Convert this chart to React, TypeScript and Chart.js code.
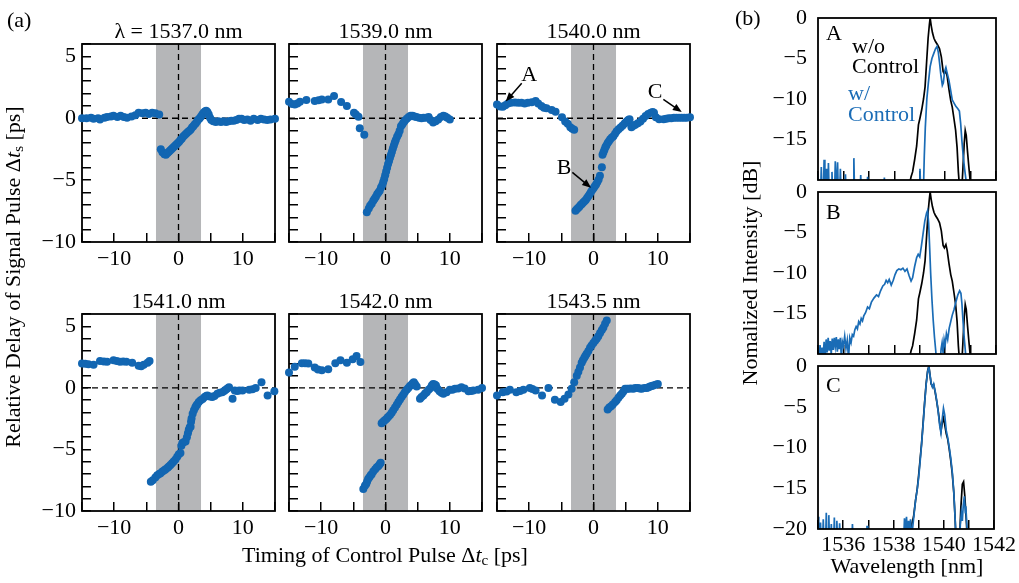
import React, { useEffect, useRef } from 'react';
import { Chart, registerables } from 'chart.js';

Chart.register(...registerables);

const SERIF = '"Liberation Serif", "Times New Roman", Times, serif';
Chart.defaults.font.family = SERIF;
Chart.defaults.font.size = 22;
Chart.defaults.color = '#000';

const DOT_BLUE = '#1266b2';
const LINE_BLUE = '#1a6cb6';
const BAND_GRAY = '#b5b6b8';

// ---------------- data: panel (a) ----------------
const delayTitles = ['λ = 1537.0 nm', '1539.0 nm', '1540.0 nm', '1541.0 nm', '1542.0 nm', '1543.5 nm'];
const controlWindow = [-3.5, 3.5];
const delayXTicks = [-10, 0, 10];
const delayYTicks = [-10, -5, 0, 5];

const delay1537 = [
  [-15, 0], [-14.3, 0], [-13.6, 0.05], [-13.2, -0.05], [-12.5, 0], [-12.2, -0.1], [-11.5, 0.05], [-11.1, 0.1], [-10.5, 0.15], [-10.1, 0.2],
  [-9.5, 0.1], [-9.0, 0.2], [-8.5, 0.1], [-8.0, 0.05], [-7.3, 0.15], [-6.7, 0.25], [-6.2, 0.45], [-5.6, 0.4], [-5.1, 0.45], [-4.6, 0.35],
  [-4.1, 0.45], [-3.6, 0.4], [-3.0, 0.3],
  [-2.75, -2.5], [-2.5, -2.75], [-2.2, -2.9], [-1.95, -2.95], [-1.7, -2.8], [-1.5, -2.7], [-1.3, -2.6], [-1.1, -2.5], [-0.9, -2.4], [-0.7, -2.3],
  [-0.5, -2.2], [-0.3, -2.1], [-0.1, -2.0], [0.1, -1.9], [0.3, -1.75], [0.5, -1.65], [0.7, -1.5], [0.9, -1.4], [1.1, -1.3], [1.3, -1.2],
  [1.5, -1.1], [1.7, -1.0], [1.9, -0.9], [2.1, -0.75], [2.3, -0.65], [2.5, -0.5], [2.7, -0.4], [2.9, -0.25], [3.1, -0.1], [3.3, 0.0],
  [3.5, 0.15], [3.7, 0.3], [3.9, 0.45], [4.1, 0.55], [4.3, 0.6], [4.5, 0.5], [4.7, 0.3], [4.9, 0.05], [5.1, -0.15],
  [5.4, -0.25], [5.8, -0.3], [6.2, -0.25], [6.6, -0.3], [7.0, -0.25], [7.4, -0.3], [7.8, -0.25], [8.2, -0.2], [8.6, -0.2], [9.0, -0.15],
  [9.4, -0.05], [9.8, -0.05], [10.2, -0.15], [10.7, -0.1], [11.2, -0.2], [11.7, -0.05], [12.3, -0.15], [12.8, -0.05], [13.3, -0.1], [13.8, -0.15],
  [14.3, -0.1], [15.0, -0.05],
];

const delay1539 = [
  [-15, 1.33], [-14.5, 1.15], [-14.1, 1.12], [-13.7, 1.2], [-13.3, 1.33], [-12.3, 1.47], [-11, 1.39], [-10.4, 1.45], [-9.9, 1.52], [-8.9, 1.52],
  [-8, 1.79], [-6.9, 1.31], [-6, 0.99], [-4.9, 0.45], [-4.6, 0.3], [-4.2, 0.13], [-4, -0.8], [-3.3, -1.33],
  [-2.9, -7.6], [-2.6, -7.3], [-2.4, -7.07], [-2.15, -6.9], [-1.9, -6.67], [-1.7, -6.5], [-1.5, -6.35], [-1.3, -6.15], [-1.1, -6], [-0.9, -5.85],
  [-0.7, -5.6], [-0.5, -5.4], [-0.35, -5.15], [-0.2, -4.9], [-0.05, -4.6], [0.1, -4.3], [0.25, -4], [0.4, -3.7], [0.55, -3.45], [0.7, -3.2],
  [0.85, -2.95], [1, -2.7], [1.15, -2.45], [1.3, -2.2], [1.45, -1.95], [1.6, -1.75], [1.8, -1.5], [2, -1.3], [2.2, -1], [2.4, -0.65],
  [2.6, -0.5], [2.8, -0.35], [3, -0.2], [3.3, -0.05], [3.6, 0.1], [3.9, 0.2], [4.2, 0.2], [4.5, 0.15], [4.8, 0.1], [5.2, 0.05],
  [5.6, 0], [5.9, 0.05], [6.3, 0.05], [6.7, 0.1], [7, -0.15], [7.4, -0.35], [7.8, -0.25], [8.2, -0.1], [8.6, 0.1], [9, 0.2],
  [9.3, 0.15], [9.6, 0.05], [10, -0.1],
];

const delay1540 = [
  [-15, 1.12], [-14.5, 0.95], [-14.1, 0.93], [-13.7, 1.05], [-13.3, 1.2], [-12.8, 1.25], [-12.2, 1.28], [-11.7, 1.25], [-11.2, 1.25], [-10.7, 1.2],
  [-10.2, 1.25], [-9.6, 1.3], [-9.0, 1.39], [-8.6, 1.2], [-8.1, 0.99], [-7.7, 0.85], [-7.3, 0.8], [-6.5, 0.67], [-5.9, 0.53], [-4.9, 0.08],
  [-4.4, -0.27], [-4.0, -0.45], [-3.6, -0.72], [-3.3, -0.85], [-3.0, -0.93],
  [-2.8, -7.47], [-2.6, -7.35], [-2.4, -7.25], [-2.2, -7.15], [-2.0, -7.0], [-1.8, -6.93], [-1.6, -6.8], [-1.4, -6.7], [-1.2, -6.6], [-1.0, -6.45],
  [-0.8, -6.3], [-0.6, -6.15], [-0.4, -5.95], [-0.2, -5.8], [0.0, -5.65], [0.2, -5.5], [0.4, -5.35], [0.6, -5.15], [0.8, -4.95], [1.0, -4.65],
  [1.3, -3.95],
  [1.4, -2.95], [1.55, -2.75], [1.7, -2.55], [1.85, -2.35], [2.0, -2.2], [2.2, -2.0], [2.4, -1.85], [2.6, -1.7], [2.85, -1.55], [3.1, -1.45],
  [3.35, -1.25], [3.6, -1.05], [3.9, -0.88], [4.2, -0.75], [4.5, -0.61], [4.8, -0.45], [5.0, -0.35], [5.2, -0.25], [5.4, -0.15], [5.6, -0.08],
  [5.9, -0.72], [6.2, -0.6], [6.5, -0.53], [6.9, -0.4], [7.3, -0.27], [7.7, -0.05], [8.1, 0.19], [8.5, 0.35], [8.9, 0.45], [9.2, 0.5],
  [9.4, 0.45], [9.7, 0.08], [10.2, -0.08], [10.9, -0.08], [11.3, -0.05], [11.7, 0.0], [12.1, 0.0], [12.5, 0.05], [12.9, 0.05], [13.3, 0.05],
  [13.7, 0.05], [14.1, 0.05], [14.5, 0.05], [15, 0.08],
];

const delay1541 = [
  [-15, 1.97], [-14.5, 1.95], [-14, 1.92], [-13.2, 1.87], [-12.2, 2.19], [-11.6, 2.15], [-11.1, 2.13], [-10.1, 2.24], [-9.6, 2.18], [-9.1, 2.13],
  [-8.6, 2.15], [-8.1, 2.13], [-7.2, 2.05], [-6.2, 1.79], [-5.8, 1.75], [-5.4, 1.87], [-4.8, 2.05], [-4.5, 2.19],
  [-4.3, -7.63], [-4.0, -7.5], [-3.6, -7.28], [-3.3, -7.1], [-3.0, -7.0], [-2.8, -6.93], [-2.5, -6.8], [-2.2, -6.7], [-2.0, -6.61], [-1.7, -6.48],
  [-1.5, -6.38], [-1.25, -6.27], [-1.0, -6.12], [-0.75, -5.97], [-0.47, -5.81], [-0.2, -5.6], [0.05, -5.4], [0.3, -5.28], [0.45, -4.7], [0.6, -4.48],
  [0.85, -4.4], [1.1, -4.35], [1.3, -4.0], [1.46, -3.68], [1.6, -3.4], [1.75, -3.2], [1.88, -3.15], [1.95, -2.75], [2.03, -2.48], [2.2, -2.1],
  [2.4, -1.81], [2.6, -1.6], [2.75, -1.45], [2.92, -1.33], [3.15, -1.15], [3.44, -1.01], [3.75, -0.9], [4.06, -0.75], [4.3, -0.65], [4.48, -0.61],
  [4.9, -0.7], [5.26, -0.75], [5.6, -0.65], [6.04, -0.48], [6.4, -0.4], [6.8, -0.35], [7.1, -0.25], [7.34, -0.16], [7.6, -0.05], [7.86, 0.05],
  [8.4, -0.88], [8.75, -0.21], [9.1, -0.25], [9.43, -0.21], [9.95, -0.21], [11.0, -0.16], [11.5, -0.12], [12.0, 0.0], [12.9, 0.45], [13.85, -0.61],
  [14.9, -0.27],
];

const delay1542 = [
  [-15, 1.25], [-14.1, 1.71], [-13, 2.0], [-12.5, 2.0], [-12, 1.97], [-11, 1.65], [-10.5, 1.5], [-9.9, 1.44], [-8.9, 1.52], [-7.8, 2.0],
  [-7.0, 2.24], [-6.0, 2.05], [-5.1, 2.32], [-4.5, 2.59], [-3.9, 2.11],
  [-3.45, -8.21], [-3.2, -7.95], [-3.0, -7.81], [-2.85, -7.6], [-2.7, -7.41], [-2.5, -7.25], [-2.3, -7.1], [-2.15, -7.01], [-1.9, -6.8], [-1.6, -6.61],
  [-1.35, -6.45], [-1.1, -6.35], [-0.9, -6.2], [-0.75, -6.08],
  [-0.6, -2.88], [-0.4, -2.78], [-0.2, -2.68], [0.0, -2.58], [0.2, -2.48], [0.44, -2.35], [0.7, -2.2], [0.96, -2.03], [1.2, -1.82], [1.48, -1.6],
  [1.75, -1.38], [2.0, -1.15], [2.25, -0.95], [2.5, -0.75], [2.75, -0.55], [3.0, -0.35], [3.3, -0.15], [3.55, 0.0], [3.8, 0.15], [4.07, 0.27],
  [4.25, 0.38], [4.4, 0.45], [4.6, 0.3], [4.85, 0.11],
  [5.36, -0.88], [5.6, -0.75], [5.9, -0.61], [6.15, -0.45], [6.4, -0.35], [6.7, -0.15], [7.0, 0.0], [7.2, 0.2], [7.4, 0.32], [7.65, 0.28],
  [7.85, 0.19], [8.1, -0.1], [8.4, -0.27], [8.7, -0.4], [9.0, -0.48], [9.5, -0.35], [10.0, -0.16], [10.4, -0.15], [10.8, -0.08], [11.3, -0.05],
  [11.8, 0.05], [12.3, -0.05], [12.9, -0.27], [13.3, -0.25], [13.65, -0.21], [14.4, -0.16], [15, 0.0],
];

const delay1543_5 = [
  [-15, -0.61], [-14.1, -0.35], [-13.5, -0.3], [-13.0, -0.16], [-12.0, -0.35], [-11.4, -0.25], [-10.9, -0.16], [-9.9, 0.0], [-9.5, -0.1], [-9.0, -0.21],
  [-8.0, -0.61], [-7.0, 0.0], [-6.0, -0.96], [-5.1, -1.15], [-4.5, -0.88], [-3.9, -0.53], [-3.4, -0.08], [-3.0, 0.45], [-2.6, 0.99], [-2.35, 1.3],
  [-2.1, 1.65], [-1.84, 2.05], [-1.65, 2.25], [-1.43, 2.45], [-1.25, 2.6], [-1.06, 2.77], [-0.8, 3.0], [-0.54, 3.25], [-0.3, 3.45], [-0.02, 3.65],
  [0.25, 3.82], [0.5, 4.0], [0.75, 4.2], [1.02, 4.45], [1.3, 4.7], [1.54, 4.91], [1.8, 5.2], [2.06, 5.47],
  [2.2, -1.76], [2.45, -1.6], [2.73, -1.49], [3.0, -1.35], [3.36, -1.15], [3.6, -1.0], [3.88, -0.8], [4.15, -0.62], [4.4, -0.48], [4.65, -0.3],
  [4.92, -0.08], [5.2, -0.08], [5.44, -0.08], [5.8, -0.05], [6.2, -0.08], [6.5, -0.02], [6.9, 0.0], [7.2, -0.05], [7.5, -0.08], [7.9, 0.0],
  [8.3, 0.0], [8.55, 0.05], [8.8, 0.11], [9.05, 0.15], [9.3, 0.19], [9.65, 0.25], [10.0, 0.32],
];

// annotations on the 1540.0 nm panel: [label, textX, textY, tailX, tailY, tipX, tipY]
const delayNotes = [
  ['A', -10.0, 3.44, -11.16, 2.82, -13.65, 1.36],
  ['B', -4.58, -4.03, -3.29, -4.38, -0.38, -5.62],
  ['C', 9.57, 2.1, 10.86, 1.52, 13.72, 0.5],
];

// ---------------- data: panel (b) ----------------
const wavelengthTicks = [1536, 1538, 1540, 1542];
const intensityTicks = [0, -5, -10, -15, -20];

// spectrum without control pulse (A, B)
const specWithout = [
  [1538.5, -22], [1538.6, -20.5], [1538.66, -19.6], [1538.72, -19.0], [1538.8, -17.5], [1538.88, -15.8], [1538.95, -13.2], [1539.0, -12.5],
  [1539.08, -11.3], [1539.15, -10.0], [1539.21, -8.5], [1539.27, -5.5], [1539.33, -2.5], [1539.38, -0.8], [1539.41, 0], [1539.45, -0.9],
  [1539.5, -1.8], [1539.56, -2.5], [1539.62, -2.9], [1539.7, -3.3], [1539.78, -3.8], [1539.85, -4.8], [1539.92, -6.6], [1539.97, -6.9],
  [1540.03, -6.5], [1540.08, -7.2], [1540.15, -8.8], [1540.22, -10.2], [1540.28, -11.0], [1540.35, -12.5], [1540.41, -13.8], [1540.47, -16.0],
  [1540.52, -19.0], [1540.58, -21.5], [1540.64, -22], [1540.7, -18.5], [1540.75, -15.5], [1540.79, -13.9], [1540.83, -14.5], [1540.88, -16.5],
  [1540.93, -18.3], [1540.98, -20.0], [1541.05, -22],
];

// spectrum with control pulse at point A
const specWithA = [
  [1535.0, -19.2], [1535.04, -22], [1535.1, -22], [1535.13, -18.4], [1535.16, -22], [1535.21, -22], [1535.24, -17.5], [1535.27, -22],
  [1535.3, -22], [1535.32, -18.6], [1535.35, -22], [1535.39, -22], [1535.41, -17.9], [1535.44, -22], [1535.52, -22], [1535.55, -19.0],
  [1535.58, -22], [1535.65, -22], [1535.68, -17.7], [1535.71, -22], [1535.74, -22], [1535.77, -17.8], [1535.8, -22], [1535.85, -22],
  [1535.88, -18.6], [1535.91, -22], [1536.05, -22], [1536.08, -19.3], [1536.11, -22], [1536.38, -22], [1536.41, -17.3], [1536.44, -22],
  [1536.65, -22], [1536.68, -19.4], [1536.71, -22], [1536.92, -22], [1536.95, -19.6], [1536.98, -22], [1537.58, -22], [1537.61, -19.7],
  [1537.64, -22], [1538.98, -22], [1539.01, -18.6], [1539.05, -22],
  [1539.14, -22], [1539.18, -17.0], [1539.22, -13.5], [1539.28, -10.0], [1539.34, -8.0], [1539.41, -6.0], [1539.48, -5.0], [1539.55, -4.4],
  [1539.62, -3.8], [1539.68, -3.5], [1539.73, -4.2], [1539.78, -5.5], [1539.83, -7.0], [1539.89, -8.3], [1539.93, -8.0], [1539.98, -6.6],
  [1540.03, -6.1], [1540.08, -6.8], [1540.15, -7.7], [1540.22, -9.0], [1540.28, -10.1], [1540.35, -10.5], [1540.42, -10.9], [1540.5, -11.2],
  [1540.56, -11.5], [1540.61, -13.0], [1540.66, -15.2], [1540.71, -17.0], [1540.76, -18.5], [1540.82, -20.0], [1540.88, -22],
];

// spectrum with control pulse at point B
const specWithB = [
  [1535.0, -19.5], [1535.04, -21], [1535.08, -18.9], [1535.12, -20.6], [1535.16, -19.2], [1535.2, -20.4], [1535.24, -18.5], [1535.28, -20.8],
  [1535.32, -18.2], [1535.36, -19.8], [1535.4, -18.0], [1535.44, -19.6], [1535.48, -18.4], [1535.52, -20.0], [1535.56, -18.1], [1535.6, -19.5],
  [1535.64, -18.0], [1535.68, -19.1], [1535.72, -17.9], [1535.76, -19.7], [1535.8, -18.2], [1535.84, -19.4], [1535.88, -18.0], [1535.92, -20.6],
  [1535.96, -18.5], [1536.0, -19.0], [1536.05, -17.8], [1536.1, -19.3], [1536.15, -18.3], [1536.2, -20.5], [1536.25, -18.0], [1536.3, -18.6],
  [1536.35, -17.6], [1536.4, -17.8], [1536.45, -17.0], [1536.5, -16.6], [1536.55, -16.9], [1536.6, -16.0], [1536.65, -16.3], [1536.7, -15.6],
  [1536.75, -15.9], [1536.8, -15.3], [1536.87, -14.9], [1536.95, -14.2], [1537.02, -14.4], [1537.1, -13.6], [1537.2, -13.1], [1537.3, -12.7],
  [1537.38, -12.9], [1537.46, -12.2], [1537.55, -11.6], [1537.62, -11.4], [1537.68, -10.9], [1537.74, -11.2], [1537.8, -10.8], [1537.88, -11.5],
  [1537.96, -10.9], [1538.03, -10.2], [1538.1, -9.7], [1538.18, -9.5], [1538.26, -9.6], [1538.34, -9.4], [1538.42, -9.8], [1538.5, -9.5],
  [1538.58, -10.3], [1538.66, -11.0], [1538.72, -10.6], [1538.8, -9.2], [1538.88, -8.1], [1538.94, -7.7], [1539.0, -8.0], [1539.06, -6.8],
  [1539.13, -5.2], [1539.2, -3.6], [1539.27, -2.6], [1539.31, -2.3], [1539.35, -3.8], [1539.39, -6.8], [1539.43, -10.0], [1539.48, -13.2],
  [1539.53, -15.8], [1539.58, -17.9], [1539.63, -19.6], [1539.68, -21.5], [1539.8, -21.5], [1539.84, -19.4], [1539.88, -18.6], [1539.92, -19.9],
  [1539.96, -18.2], [1540.0, -18.9], [1540.05, -17.5], [1540.1, -18.2], [1540.16, -16.8], [1540.22, -16.0], [1540.28, -15.2], [1540.35, -14.5],
  [1540.42, -13.6], [1540.5, -12.7], [1540.57, -12.2], [1540.62, -12.5], [1540.66, -13.8], [1540.7, -15.8], [1540.75, -18.0], [1540.8, -19.8],
  [1540.85, -21.5],
];

// spectra at point C
const specWithoutC = [
  [1538.55, -22], [1538.65, -20.5], [1538.72, -19.5], [1538.8, -18.5], [1538.88, -16.5], [1538.95, -15.0], [1539.0, -13.5], [1539.06, -11.5],
  [1539.12, -9.5], [1539.18, -7.0], [1539.24, -4.5], [1539.3, -2.2], [1539.36, -0.6], [1539.41, 0], [1539.45, -1.0], [1539.5, -2.2],
  [1539.55, -2.5], [1539.6, -2.3], [1539.66, -3.2], [1539.72, -4.3], [1539.78, -5.5], [1539.84, -7.0], [1539.89, -8.0], [1539.94, -7.0],
  [1539.99, -6.4], [1540.04, -7.2], [1540.1, -8.3], [1540.16, -9.0], [1540.22, -10.2], [1540.28, -11.6], [1540.34, -13.2], [1540.4, -15.5],
  [1540.45, -18.5], [1540.5, -22], [1540.62, -22], [1540.68, -17.5], [1540.74, -14.5], [1540.79, -14.2], [1540.84, -16.0], [1540.9, -19.0],
  [1540.95, -22],
];

const specWithC = [
  [1535.0, -18.5], [1535.03, -22], [1535.07, -22], [1535.1, -19.2], [1535.13, -22], [1535.18, -22], [1535.21, -18.8], [1535.24, -22],
  [1535.3, -22], [1535.33, -18.0], [1535.36, -22], [1535.4, -22], [1535.43, -18.3], [1535.46, -22], [1535.5, -22], [1535.53, -19.4],
  [1535.56, -22], [1535.62, -22], [1535.65, -18.6], [1535.68, -22], [1535.72, -22], [1535.75, -19.0], [1535.78, -22], [1535.83, -22],
  [1535.86, -19.3], [1535.89, -22], [1536.34, -22], [1536.37, -19.4], [1536.4, -22], [1536.92, -22], [1536.95, -19.6], [1536.98, -22],
  [1538.4, -22], [1538.44, -18.7], [1538.48, -20.5], [1538.52, -18.5], [1538.56, -21], [1538.6, -19.0], [1538.64, -20.2], [1538.68, -18.8],
  [1538.72, -21], [1538.76, -20.0], [1538.82, -18.2], [1538.88, -16.5], [1538.94, -15.3], [1539.0, -13.8], [1539.06, -11.8], [1539.12, -9.6],
  [1539.18, -7.2], [1539.24, -4.6], [1539.3, -2.3], [1539.36, -0.7], [1539.41, -0.1], [1539.45, -1.0], [1539.5, -2.1], [1539.55, -2.6],
  [1539.6, -2.2], [1539.66, -3.1], [1539.72, -4.2], [1539.78, -5.6], [1539.84, -7.3], [1539.89, -8.2], [1539.94, -6.5], [1539.99, -5.2],
  [1540.04, -6.0], [1540.1, -7.9], [1540.16, -8.8], [1540.22, -10.0], [1540.28, -11.3], [1540.34, -13.0], [1540.4, -15.4], [1540.45, -18.5],
  [1540.5, -22], [1540.62, -22], [1540.66, -19.5], [1540.7, -18.0], [1540.74, -19.0], [1540.78, -17.0], [1540.82, -16.0], [1540.86, -18.0],
  [1540.88, -17.2], [1540.92, -19.5], [1540.96, -22],
];

// ---------------- layout ----------------
const ML = 70, MR = 32, MT = 34, MB = 42;

const fmt = (v: number) => (v < 0 ? '\u2212' + Math.abs(v) : String(v));
const near = (v: number, list: number[]) => list.some((t) => Math.abs(v - t) < 1e-6);

function drawArrow(ctx: CanvasRenderingContext2D, x1: number, y1: number, x2: number, y2: number) {
  const ang = Math.atan2(y2 - y1, x2 - x1);
  const L = 9, W = 3.6;
  ctx.beginPath();
  ctx.moveTo(x1, y1);
  ctx.lineTo(x2 - (L - 2) * Math.cos(ang), y2 - (L - 2) * Math.sin(ang));
  ctx.stroke();
  ctx.beginPath();
  ctx.moveTo(x2, y2);
  ctx.lineTo(x2 - L * Math.cos(ang) + W * Math.sin(ang), y2 - L * Math.sin(ang) - W * Math.cos(ang));
  ctx.lineTo(x2 - L * Math.cos(ang) - W * Math.sin(ang), y2 - L * Math.sin(ang) + W * Math.cos(ang));
  ctx.closePath();
  ctx.fill();
}

function makeDecor(opts: any) {
  const frame = (chart: any) => {
    const { ctx, chartArea: a } = chart;
    ctx.save();
    ctx.strokeStyle = '#000';
    ctx.lineWidth = 1.8;
    ctx.setLineDash([]);
    ctx.strokeRect(a.left, a.top, a.right - a.left, a.bottom - a.top);
    ctx.restore();
  };
  return {
    id: 'decor',
    beforeDraw(chart: any) {
      if (!opts.band) return;
      const { ctx, chartArea: a, scales } = chart;
      const x = scales.x, y = scales.y;
      ctx.save();
      const x1 = x.getPixelForValue(controlWindow[0]);
      const x2 = x.getPixelForValue(controlWindow[1]);
      ctx.fillStyle = BAND_GRAY;
      ctx.fillRect(x1, a.top, x2 - x1, a.bottom - a.top);
      ctx.strokeStyle = '#000';
      ctx.lineWidth = 1.3;
      ctx.setLineDash([6, 4]);
      const x0 = x.getPixelForValue(0), y0 = y.getPixelForValue(0);
      ctx.beginPath();
      ctx.moveTo(x0, a.top);
      ctx.lineTo(x0, a.bottom);
      ctx.moveTo(a.left, y0);
      ctx.lineTo(a.right, y0);
      ctx.stroke();
      ctx.restore();
    },
    beforeDatasetsDraw(chart: any) {
      if (!opts.frameAfter) frame(chart);
    },
    afterDatasetsDraw(chart: any) {
      if (opts.frameAfter) frame(chart);
      const { ctx, chartArea: a, scales } = chart;
      ctx.save();
      ctx.font = '22px ' + SERIF;
      if (opts.title) {
        ctx.fillStyle = '#000';
        ctx.textAlign = 'center';
        ctx.textBaseline = 'alphabetic';
        ctx.fillText(opts.title, (a.left + a.right) / 2, a.top - 6);
      }
      if (opts.notes) {
        ctx.fillStyle = '#000';
        ctx.strokeStyle = '#000';
        ctx.lineWidth = 1.5;
        ctx.textAlign = 'center';
        ctx.textBaseline = 'middle';
        for (const n of opts.notes) {
          const [lab, tx, ty, ax, ay, bx, by] = n;
          ctx.fillText(lab, scales.x.getPixelForValue(tx), scales.y.getPixelForValue(ty));
          drawArrow(ctx, scales.x.getPixelForValue(ax), scales.y.getPixelForValue(ay), scales.x.getPixelForValue(bx), scales.y.getPixelForValue(by));
        }
      }
      if (opts.texts) {
        ctx.textAlign = 'left';
        ctx.textBaseline = 'alphabetic';
        for (const t of opts.texts) {
          ctx.fillStyle = t.color;
          ctx.fillText(t.text, a.left + t.dx, a.top + t.dy);
        }
      }
      ctx.restore();
    },
  };
}

function delayConfig(points: number[][], title: string, showY: boolean, notes?: any[]) {
  return {
    type: 'scatter',
    data: {
      datasets: [{
        data: points.map(([x, y]) => ({ x, y })),
        backgroundColor: DOT_BLUE,
        borderColor: DOT_BLUE,
        pointRadius: 4,
        pointBorderWidth: 0,
        clip: false,
      }],
    },
    options: {
      animation: false,
      responsive: false,
      events: [],
      layout: { padding: { left: 0, top: MT, right: MR, bottom: 0 } },
      plugins: { legend: { display: false }, tooltip: { enabled: false }, title: { display: false } },
      scales: {
        x: {
          type: 'linear', position: 'bottom', min: -15, max: 15,
          border: { display: false },
          grid: { drawOnChartArea: false, drawTicks: true, tickLength: -9, color: '#000', lineWidth: 1.5 },
          ticks: {
            stepSize: 5, autoSkip: false, maxRotation: 0, padding: 13, color: '#000',
            font: { family: SERIF, size: 22 },
            callback: (v: number) => (near(v, delayXTicks) ? fmt(v) : ''),
          },
          afterFit: (s: any) => { s.height = MB; },
        },
        y: {
          type: 'linear', position: 'left', min: -10, max: 6,
          border: { display: false },
          grid: { drawOnChartArea: false, drawTicks: true, tickLength: -9, color: '#000', lineWidth: 1.5 },
          ticks: {
            stepSize: 1, autoSkip: false, padding: 15, color: '#000',
            font: { family: SERIF, size: 22 },
            callback: (v: number) => (showY && near(v, delayYTicks) ? fmt(v) : ''),
          },
          afterFit: (s: any) => { s.width = ML; },
        },
      },
    },
    plugins: [makeDecor({ band: true, title, notes })],
  };
}

function spectrumConfig(without: number[][], withC: number[][], letter: string, letterDy: number, showX: boolean, showBottom: boolean, legend: boolean) {
  const texts: any[] = [{ text: letter, dx: 8, dy: letterDy, color: '#000' }];
  if (legend) {
    texts.push({ text: 'w/o', dx: 34, dy: 35, color: '#000' });
    texts.push({ text: 'Control', dx: 34, dy: 55, color: '#000' });
    texts.push({ text: 'w/', dx: 30, dy: 82, color: LINE_BLUE });
    texts.push({ text: 'Control', dx: 30, dy: 103, color: LINE_BLUE });
  }
  const ds = (pts: number[][], color: string, order: number) => ({
    data: pts.map(([x, y]) => ({ x, y })),
    borderColor: color,
    backgroundColor: color,
    borderWidth: 1.7,
    pointRadius: 0,
    tension: 0,
    fill: false,
    clip: 0,
    order,
  });
  return {
    type: 'line',
    // lower "order" is drawn on top: the blue (with control) trace lies over the black one
    data: { datasets: [ds(without, '#000', 2), ds(withC, LINE_BLUE, 1)] },
    options: {
      animation: false,
      responsive: false,
      events: [],
      layout: { padding: { left: 0, top: MT, right: MR, bottom: 0 } },
      plugins: { legend: { display: false }, tooltip: { enabled: false }, title: { display: false } },
      scales: {
        x: {
          type: 'linear', position: 'bottom', min: 1535, max: 1542,
          border: { display: false },
          grid: { drawOnChartArea: false, drawTicks: true, tickLength: -9, color: '#000', lineWidth: 1.5 },
          ticks: {
            stepSize: 1, autoSkip: false, maxRotation: 0, padding: 12, color: '#000',
            font: { family: SERIF, size: 22 },
            callback: (v: number) => (showX && near(v, wavelengthTicks) ? String(Math.round(v)) : ''),
          },
          afterFit: (s: any) => { s.height = MB; },
        },
        y: {
          type: 'linear', position: 'left', min: -20, max: 0,
          border: { display: false },
          grid: { drawOnChartArea: false, drawTicks: false, color: '#000', lineWidth: 1.5 },
          ticks: {
            stepSize: 5, autoSkip: false, padding: 11, color: '#000',
            font: { family: SERIF, size: 22 },
            callback: (v: number) => (near(v, intensityTicks) && (showBottom || v > -20) ? fmt(v) : ''),
          },
          afterFit: (s: any) => { s.width = ML; },
        },
      },
    },
    plugins: [makeDecor({ frameAfter: true, texts })],
  };
}

function ChartPanel({ left, top, w, h, config }: any) {
  const ref = useRef<HTMLCanvasElement>(null);
  useEffect(() => {
    const chart = new Chart(ref.current as HTMLCanvasElement, config);
    return () => chart.destroy();
  }, []);
  const cw = w + ML + MR, ch = h + MT + MB;
  return (
    <canvas
      ref={ref}
      width={cw}
      height={ch}
      style={{ position: 'absolute', left: left - ML, top: top - MT, width: cw, height: ch }}
    />
  );
}

const textStyle: any = { position: 'absolute', fontFamily: SERIF, fontSize: 22, lineHeight: '26px', whiteSpace: 'nowrap', color: '#000' };

export default function App() {
  const colLeft = [82, 289, 497];
  const rowTop = [44, 314];
  const aW = 193, aH = 198;
  const delaySets = [delay1537, delay1539, delay1540, delay1541, delay1542, delay1543_5];

  const bLeft = 818, bW = 178;
  const bTop = [18, 192, 366];
  const bH = [162, 162, 163];

  return (
    <div style={{ position: 'fixed', left: 0, top: 0, width: 1019, height: 583, overflow: 'hidden', background: '#fff' }}>
      {delaySets.map((pts, i) => {
        const r = Math.floor(i / 3), c = i % 3;
        return (
          <ChartPanel
            key={'d' + i}
            left={colLeft[c]}
            top={rowTop[r]}
            w={aW}
            h={r === 0 ? aH : aH - 1}
            config={delayConfig(pts, delayTitles[i], c === 0, i === 2 ? delayNotes : undefined)}
          />
        );
      })}
      <ChartPanel left={bLeft} top={bTop[0]} w={bW} h={bH[0]} config={spectrumConfig(specWithout, specWithA, 'A', 22, false, false, true)} />
      <ChartPanel left={bLeft} top={bTop[1]} w={bW} h={bH[1]} config={spectrumConfig(specWithout, specWithB, 'B', 27, false, false, false)} />
      <ChartPanel left={bLeft} top={bTop[2]} w={bW} h={bH[2]} config={spectrumConfig(specWithoutC, specWithC, 'C', 26, true, true, false)} />

      <div style={{ ...textStyle, left: 7, top: 7 }}>(a)</div>
      <div style={{ ...textStyle, left: 735, top: 5 }}>(b)</div>
      <div style={{ ...textStyle, left: 15, top: 277, transform: 'translate(-50%, -50%) rotate(-90deg)' }}>
        Relative Delay of Signal Pulse Δ<i>t</i><span style={{ fontSize: 15, verticalAlign: '-3px' }}>s</span> [ps]
      </div>
      <div style={{ ...textStyle, left: 385, top: 557, transform: 'translate(-50%, -50%)' }}>
        Timing of Control Pulse Δ<i>t</i><span style={{ fontSize: 15, verticalAlign: '-3px' }}>c</span> [ps]
      </div>
      <div style={{ ...textStyle, left: 750, top: 273, transform: 'translate(-50%, -50%) rotate(-90deg)' }}>
        Nomalized Intensity [dB]
      </div>
      <div style={{ ...textStyle, left: 907, top: 566, transform: 'translate(-50%, -50%)' }}>
        Wavelength [nm]
      </div>
    </div>
  );
}
